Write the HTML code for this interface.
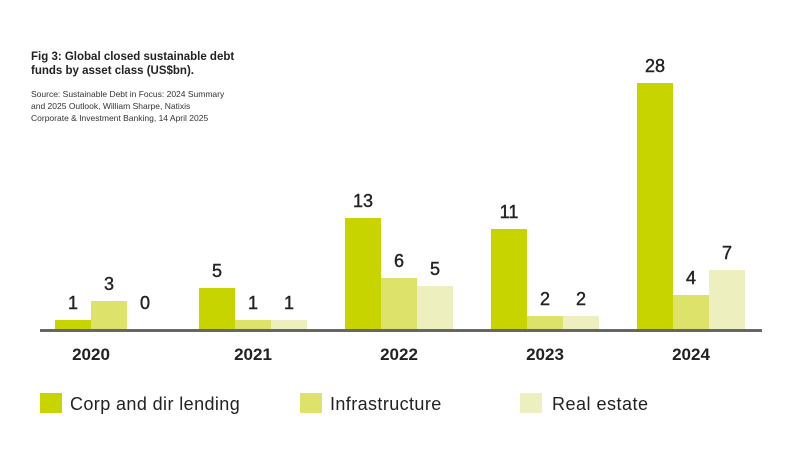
<!DOCTYPE html>
<html><head><meta charset="utf-8"><style>
html,body{margin:0;padding:0;background:#fff;}
svg{display:block;font-family:"Liberation Sans",sans-serif;}
</style></head><body>
<svg width="800" height="469" viewBox="0 0 800 469">
<text x="31" y="60" font-size="11.5" font-weight="bold" fill="#222">Fig 3: Global closed sustainable debt</text>
<text x="31" y="74" font-size="11.5" font-weight="bold" fill="#222">funds by asset class (US$bn).</text>
<text x="31" y="97" font-size="8.5" fill="#333">Source: Sustainable Debt in Focus: 2024 Summary</text>
<text x="31" y="109" font-size="8.5" fill="#333">and 2025 Outlook, William Sharpe, Natixis</text>
<text x="31" y="121" font-size="8.5" fill="#333">Corporate &amp; Investment Banking, 14 April 2025</text>
<g>
<rect x="55" y="320" width="36" height="10" fill="#c8d400"/>
<rect x="91" y="301" width="36" height="29" fill="#dde26b"/>
<rect x="199" y="288" width="36" height="42" fill="#c8d400"/>
<rect x="235" y="320" width="36" height="10" fill="#dde26b"/>
<rect x="271" y="320" width="36" height="10" fill="#eeefbf"/>
<rect x="345" y="218" width="36" height="112" fill="#c8d400"/>
<rect x="381" y="278" width="36" height="52" fill="#dde26b"/>
<rect x="417" y="286" width="36" height="44" fill="#eeefbf"/>
<rect x="491" y="229" width="36" height="101" fill="#c8d400"/>
<rect x="527" y="316" width="36" height="14" fill="#dde26b"/>
<rect x="563" y="316" width="36" height="14" fill="#eeefbf"/>
<rect x="637" y="83" width="36" height="247" fill="#c8d400"/>
<rect x="673" y="295" width="36" height="35" fill="#dde26b"/>
<rect x="709" y="270" width="36" height="60" fill="#eeefbf"/>
</g>
<rect x="40" y="329" width="722" height="3" fill="#666"/>
<g font-size="18" fill="#222" text-anchor="middle" stroke="#222" stroke-width="0.4">
<text x="73" y="309">1</text><text x="109" y="290">3</text><text x="145" y="309">0</text>
<text x="217" y="277">5</text><text x="253" y="309">1</text><text x="289" y="309">1</text>
<text x="363" y="207">13</text><text x="399" y="267">6</text><text x="435" y="275">5</text>
<text x="509" y="218">11</text><text x="545" y="305">2</text><text x="581" y="305">2</text>
<text x="655" y="72">28</text><text x="691" y="284">4</text><text x="727" y="259">7</text>
</g>
<g font-size="17" font-weight="bold" fill="#222" text-anchor="middle">
<text x="91" y="360">2020</text><text x="253" y="360">2021</text><text x="399" y="360">2022</text><text x="545" y="360">2023</text><text x="691" y="360">2024</text>
</g>
<rect x="40" y="393" width="22" height="20" fill="#c8d400"/>
<text x="70" y="410" font-size="18" fill="#222" letter-spacing="0.4">Corp and dir lending</text>
<rect x="300" y="393" width="22" height="20" fill="#dde26b"/>
<text x="330" y="410" font-size="18" fill="#222" letter-spacing="0.4">Infrastructure</text>
<rect x="520" y="393" width="22" height="20" fill="#eeefbf"/>
<text x="552" y="410" font-size="18" fill="#222" letter-spacing="0.5">Real estate</text>
</svg>
</body></html>
